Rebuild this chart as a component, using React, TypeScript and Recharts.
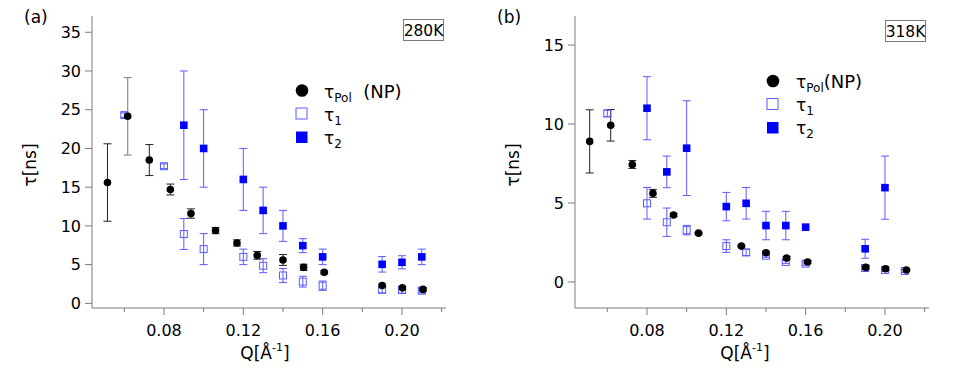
import React from 'react';
import { ScatterChart, Scatter, XAxis, YAxis, ErrorBar } from 'recharts';

// ---- panel (a) 280K ----
const qPolA = [0.0515, 0.0617, 0.0726, 0.0832, 0.0936, 0.106, 0.1168, 0.127, 0.14, 0.1504, 0.1608, 0.19, 0.2002, 0.2106];
const tauPolA = [15.6, 24.15, 18.5, 14.7, 11.6, 9.4, 7.8, 6.2, 5.6, 4.65, 4.0, 2.3, 2.0, 1.8];
const errPolA = [5, 0, 2, 0.7, 0.6, 0.4, 0.4, 0.5, 0.7, 0.4, 0.2, 0.2, 0.2, 0.2];
const greyErrA = [{ q: 0.0617, tau: 24.15, err: 5 }];

const qTau1A = [0.06, 0.08, 0.09, 0.1, 0.12, 0.13, 0.14, 0.15, 0.16, 0.19, 0.2, 0.21];
const tau1A = [24.3, 17.7, 8.95, 7.0, 6.0, 4.86, 3.6, 2.8, 2.28, 1.76, 1.72, 1.64];
const err1A = [0.3, 0.3, 2, 2, 1, 0.9, 0.9, 0.7, 0.6, 0.4, 0.4, 0.3];

const qTau2A = [0.09, 0.1, 0.12, 0.13, 0.14, 0.15, 0.16, 0.19, 0.2, 0.21];
const tau2A = [23, 20, 16, 12, 10, 7.45, 6, 5.04, 5.3, 6];
const err2A = [7, 5, 4, 3, 2, 0.9, 1, 1, 0.85, 1];

// ---- panel (b) 318K ----
const qPolB = [0.0511, 0.0617, 0.0726, 0.083, 0.0934, 0.106, 0.1276, 0.14, 0.1504, 0.161, 0.1903, 0.2003, 0.2108];
const tauPolB = [8.9, 9.92, 7.44, 5.61, 4.24, 3.09, 2.27, 1.85, 1.51, 1.26, 0.92, 0.84, 0.76];
const errPolB = [2, 1, 0.25, 0.25, 0.1, 0.05, 0.05, 0.1, 0.1, 0.1, 0.1, 0.1, 0.05];

const qTau1B = [0.06, 0.08, 0.09, 0.1, 0.12, 0.13, 0.14, 0.15, 0.16, 0.19, 0.2, 0.21];
const tau1B = [10.67, 4.98, 3.78, 3.28, 2.27, 1.87, 1.66, 1.26, 1.16, 0.88, 0.76, 0.69];
const err1B = [0.2, 1, 0.9, 0.3, 0.4, 0.2, 0.1, 0.1, 0.1, 0.1, 0.1, 0.1];

const qTau2B = [0.08, 0.09, 0.1, 0.12, 0.13, 0.14, 0.15, 0.16, 0.19, 0.2];
const tau2B = [11, 6.97, 8.47, 4.77, 4.98, 3.57, 3.57, 3.47, 2.1, 5.97];
const err2B = [2, 1, 3, 0.9, 1, 0.9, 0.9, 0, 0.6, 2];

// ticks
const xTicks = [0.06, 0.08, 0.1, 0.12, 0.14, 0.16, 0.18, 0.2, 0.22];
const xTickLabels = ['0.08', '0.12', '0.16', '0.20'];
const yTicksA = [0, 5, 10, 15, 20, 25, 30, 35];
const yTicksB = [0, 5, 10, 15];

const FONT = 'DejaVu Sans';
const FRAME = '#7a7a7a';
const BLUE = '#0000ff';
const LIGHTBLUE = '#5b5bff';

const toRows = (q: number[], tau: number[], err: number[]) =>
  q.map((v, i) => ({ q: v, tau: tau[i], err: err[i] }));

const Dot = (p: any) => <circle cx={p.cx} cy={p.cy} r={3.8} fill="#000" />;
const OpenSq = (p: any) => (
  <rect x={p.cx - 3.5} y={p.cy - 3.5} width={7} height={7} fill="none" stroke={LIGHTBLUE} strokeWidth={1} />
);
const FilledSq = (p: any) => <rect x={p.cx - 3.8} y={p.cy - 3.8} width={7.6} height={7.6} fill={BLUE} />;
const Nothing = () => <g />;

const XTick = (props: any) => {
  const { x, y, payload } = props;
  const label = payload.value.toFixed(2);
  const major = xTickLabels.includes(label);
  return (
    <g>
      <line x1={x} x2={x} y1={y} y2={y + (major ? 7 : 4)} stroke={FRAME} />
      {major && (
        <text x={x} y={y + 28} textAnchor="middle" fontSize={16} fontFamily={FONT} fill="#000">
          {label}
        </text>
      )}
    </g>
  );
};

interface PanelProps {
  yTicks: number[];
  yDomain: [number, number];
  yWidth: number;
  right: number;
  pol: { q: number; tau: number; err: number }[];
  t1: { q: number; tau: number; err: number }[];
  t2: { q: number; tau: number; err: number }[];
  greyErr?: { q: number; tau: number; err: number }[];
}

const Panel: React.FC<PanelProps> = ({ yTicks, yDomain, yWidth, right, pol, t1, t2, greyErr }) => (
  <ScatterChart width={479} height={382} margin={{ top: 16, right, bottom: 0, left: 0 }}>
    <XAxis
      xAxisId="b"
      type="number"
      dataKey="q"
      domain={[0.0437, 0.2222]}
      ticks={xTicks}
      interval={0}
      height={74}
      tickSize={0}
      tickMargin={0}
      tickLine={false}
      tick={<XTick />}
      axisLine={{ stroke: FRAME }}
      allowDataOverflow
    />
    <XAxis
      xAxisId="t"
      orientation="top"
      type="number"
      dataKey="q"
      domain={[0.0437, 0.2222]}
      height={0}
      tick={false}
      tickLine={false}
      axisLine={{ stroke: FRAME }}
      allowDataOverflow
    />
    <YAxis
      yAxisId="l"
      type="number"
      dataKey="tau"
      domain={yDomain}
      ticks={yTicks}
      interval={0}
      width={yWidth}
      tickSize={7}
      tickMargin={4}
      tickLine={{ stroke: FRAME }}
      axisLine={{ stroke: FRAME }}
      tick={{ fill: '#000', fontSize: 16, fontFamily: FONT }}
      allowDataOverflow
    />
    <YAxis
      yAxisId="r"
      orientation="right"
      type="number"
      dataKey="tau"
      domain={yDomain}
      width={0}
      tick={false}
      tickLine={false}
      axisLine={{ stroke: FRAME }}
      allowDataOverflow
    />
    {greyErr && (
      <Scatter xAxisId="b" yAxisId="l" data={greyErr} shape={<Nothing />} isAnimationActive={false}>
        <ErrorBar dataKey="err" direction="y" width={4} stroke="#8c8c8c" strokeWidth={1.2} isAnimationActive={false} />
      </Scatter>
    )}
    <Scatter xAxisId="b" yAxisId="l" data={t2} shape={<FilledSq />} isAnimationActive={false}>
      <ErrorBar dataKey="err" direction="y" width={4} stroke={LIGHTBLUE} strokeWidth={1} isAnimationActive={false} />
    </Scatter>
    <Scatter xAxisId="b" yAxisId="l" data={t1} shape={<OpenSq />} isAnimationActive={false}>
      <ErrorBar dataKey="err" direction="y" width={4} stroke={LIGHTBLUE} strokeWidth={1} isAnimationActive={false} />
    </Scatter>
    <Scatter xAxisId="b" yAxisId="l" data={pol} shape={<Dot />} isAnimationActive={false}>
      <ErrorBar dataKey="err" direction="y" width={4} stroke="#222" strokeWidth={1} isAnimationActive={false} />
    </Scatter>
  </ScatterChart>
);

const Legend = ({ x, y, textX, polGap }: { x: number; y: number; textX: number; polGap: string }) => (
  <g fontFamily={FONT} fill="#000">
    <circle cx={x + 3} cy={y} r={6.3} fill="#000" />
    <text x={textX} y={y + 7} fontSize={17}>
      τ<tspan fontSize={12} dy={4}>Pol</tspan>
      <tspan dy={-4} fontSize={18}>{polGap}(NP)</tspan>
    </text>
    <rect x={x - 3} y={y + 17.5} width={11} height={11} fill="none" stroke={LIGHTBLUE} />
    <text x={textX} y={y + 30} fontSize={17}>
      τ<tspan fontSize={12} dy={4}>1</tspan>
    </text>
    <rect x={x - 3} y={y + 41} width={11.5} height={11.5} fill={BLUE} />
    <text x={textX} y={y + 53} fontSize={17}>
      τ<tspan fontSize={12} dy={4}>2</tspan>
    </text>
  </g>
);

const Annotations = () => (
  <svg width={958} height={382} style={{ position: 'absolute', left: 0, top: 0, pointerEvents: 'none' }}>
    <g fontFamily={FONT} fill="#000">
      <text x={24} y={23} fontSize={17}>(a)</text>
      <text x={497} y={23} fontSize={17}>(b)</text>

      <text transform="translate(36,165) rotate(-90)" textAnchor="middle" fontSize={17}>τ[ns]</text>
      <text transform="translate(519,165) rotate(-90)" textAnchor="middle" fontSize={17}>τ[ns]</text>

      <text x={265} y={359} textAnchor="middle" fontSize={17}>
        Q[Å<tspan fontSize={11} dy={-8}>-1</tspan><tspan dy={8}>]</tspan>
      </text>
      <text x={745} y={359} textAnchor="middle" fontSize={17}>
        Q[Å<tspan fontSize={11} dy={-8}>-1</tspan><tspan dy={8}>]</tspan>
      </text>

      <rect x={403.5} y={19.5} width={40} height={21} fill="#fff" stroke={FRAME} />
      <text x={423.5} y={36} textAnchor="middle" fontSize={15.5}>280K</text>
      <rect x={885.5} y={20.5} width={40} height={21} fill="#fff" stroke={FRAME} />
      <text x={905.5} y={37} textAnchor="middle" fontSize={15.5}>318K</text>
    </g>
    <Legend x={299} y={90.5} textX={324} polGap={'\u00a0\u00a0'} />
    <Legend x={770} y={81} textX={796} polGap={''} />
  </svg>
);

export default function App() {
  return (
    <div style={{ position: 'fixed', left: 0, top: 0, width: 958, height: 382, background: '#fff' }}>
      <div style={{ position: 'absolute', left: 0, top: 0 }}>
        <Panel
          yTicks={yTicksA}
          yDomain={[-0.6, 37.1]}
          yWidth={92}
          right={33}
          pol={toRows(qPolA, tauPolA, errPolA)}
          t1={toRows(qTau1A, tau1A, err1A)}
          t2={toRows(qTau2A, tau2A, err2A)}
          greyErr={greyErrA}
        />
      </div>
      <div style={{ position: 'absolute', left: 479, top: 0 }}>
        <Panel
          yTicks={yTicksB}
          yDomain={[-1.65, 16.84]}
          yWidth={96}
          right={29}
          pol={toRows(qPolB, tauPolB, errPolB)}
          t1={toRows(qTau1B, tau1B, err1B)}
          t2={toRows(qTau2B, tau2B, err2B)}
        />
      </div>
      <Annotations />
    </div>
  );
}
